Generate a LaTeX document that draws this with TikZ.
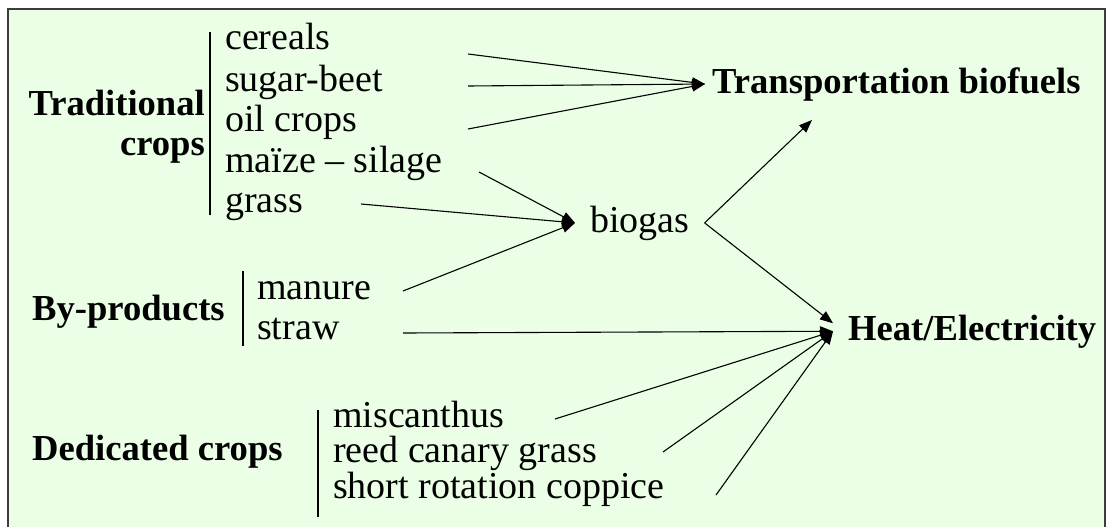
\documentclass[tikz,border=0pt]{standalone}
\usepackage{fontspec}
\setmainfont{Liberation Serif}
\usetikzlibrary{arrows.meta,positioning}
\definecolor{panel}{RGB}{235,255,230}
\definecolor{frame}{RGB}{60,60,60}
\newcommand{\diagfont}{\fontsize{38}{40}\selectfont}
\newcommand{\headfont}{\fontsize{36.6}{40}\selectfont\bfseries}

\begin{document}
\begin{tikzpicture}[x = 1pt, y = -1pt, font = \diagfont,
  item/.style = {anchor = base west, inner sep = 0},
  head/.style = {anchor = base west, inner sep = 0, font = \headfont},
  bar/.style = {line width = 1.2pt},
  flow/.style = {-{Triangle[length = 13pt, width = 10pt]}, line width = 1.1pt}]
\useasboundingbox (0, 0) rectangle (1107, 527);
\fill[panel] (8, 9) rectangle (1105, 527);
\draw[frame, line width = 1.5pt] (8, 527) -- (8, 9) -- (1105, 9) -- (1105, 527);

\node[head, anchor = base east] (trad) at (205, 115) {Traditional};
\node[head, anchor = base east] (tradcrops) at (205, 155) {crops};
\draw[bar] (210, 32) -- (210, 215);
\node[item] (cereals) at (225, 50) {cereals};
\node[item] (beet) at (225, 91) {sugar-beet};
\node[item] (oil) at (225, 131) {oil crops};
\node[item] (maize) at (225, 172) {maïze -- silage};
\node[item] (grass) at (225, 212) {grass};

\node[head] (byprod) at (32, 320) {By-products};
\draw[bar] (243, 271) -- (243, 346);
\node[item] (manure) at (257, 299) {manure};
\node[item] (straw) at (257, 339) {straw};

\node[head] (dedic) at (32, 460) {Dedicated crops};
\draw[bar] (318, 410) -- (318, 517);
\node[item] (misc) at (333, 427) {miscanthus};
\node[item] (reed) at (333, 462) {reed canary grass};
\node[item] (src) at (333, 498) {short rotation coppice};

\node[head, inner xsep = 7pt, inner ysep = 0] (transport) at (705, 93) {Transportation biofuels};
\node[item, inner xsep = 15pt] (biogas) at (575, 232) {biogas};
\node[head, inner xsep = 15pt, inner ysep = 0] (heat) at (833, 340) {Heat/Electricity};

\coordinate (cereals-out) at (468, 54);
\coordinate (beet-out) at (468, 86);
\coordinate (oil-out) at (468, 129);
\coordinate (maize-out) at (479, 172);
\coordinate (grass-out) at (361, 204);
\coordinate (manure-out) at (403, 291);
\coordinate (straw-out) at (403, 333);
\coordinate (misc-out) at (555, 419);
\coordinate (reed-out) at (663, 452);
\coordinate (src-out) at (716, 495);
\coordinate (transport-in) at (812, 120);

\draw[flow] (cereals-out) -- (transport.west);
\draw[flow] (beet-out) -- (transport.west);
\draw[flow] (oil-out) -- (transport.west);
\draw[flow] (maize-out) -- (biogas.west);
\draw[flow] (grass-out) -- (biogas.west);
\draw[flow] (manure-out) -- (biogas.west);
\draw[flow] (biogas.east) -- (transport-in);
\draw[flow] (biogas.east) -- ([yshift = 8pt]heat.west);
\draw[flow] (straw-out) -- (heat.west);
\draw[flow] (misc-out) -- (heat.west);
\draw[flow] (reed-out) -- (heat.west);
\draw[flow] (src-out) -- (heat.west);

\end{tikzpicture}
\end{document}
